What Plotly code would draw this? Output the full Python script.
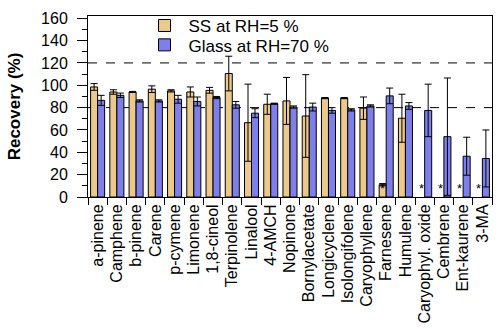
import plotly.graph_objects as go

compounds = ["a-pinene", "Camphene", "b-pinene", "Carene", "p-cymene", "Limonene",
             "1,8-cineol", "Terpinolene", "Linalool", "4-AMCH", "Nopinone",
             "Bornylacetate", "Longicyclene", "Isolongifolene", "Caryophyllene",
             "Farnesene", "Humulene", "Caryophyl. oxide", "Cembrene", "Ent-kaurene", "3-MA"]

ss_rec = [98.5, 94, 94, 96.5, 95, 94, 95.5, 110.5, 66.5, 83, 86, 72.5, 88.5, 88.5,
          79.5, 11, 70.5, None, None, None, None]
ss_err = [3, 2, 0.5, 3, 1, 4.5, 2.6, 15.5, 34.5, 9, 21, 37, 0.5, 0.5,
          10, 1, 21.5, 0, 0, 0, 0]
glass_rec = [86.5, 91, 86, 86, 87.5, 85.5, 89, 82.5, 75, 83.5, 80.5, 80.5, 77.5, 78,
             81.5, 90.5, 81.5, 77.5, 54, 36.5, 34.5]
glass_err = [4.5, 2, 1, 1, 3.5, 4, 1, 3, 4, 0.5, 1, 3.5, 2.5, 1,
             1, 7, 3, 23.5, 52.5, 17, 25.5]

# compounds marked with an asterisk at the SS position
starred = ["Farnesene", "Caryophyl. oxide", "Cembrene", "Ent-kaurene", "3-MA"]
star_y = 8
ref_lines = [80, 120]

font = "Arial, Liberation Sans, sans-serif"

fig = go.Figure()
fig.add_trace(go.Bar(x=compounds, y=ss_rec, name="SS at RH=5 %", legend="legend", showlegend=True,
                     marker=dict(color="#EAC98A", line=dict(color="black", width=1)),
                     error_y=dict(type="data", array=ss_err, color="black", thickness=1, width=3.5)))
fig.add_trace(go.Bar(x=compounds, y=glass_rec, name="Glass at RH=70 %", legend="legend2", showlegend=True,
                     marker=dict(color="#7F7FEC", line=dict(color="black", width=1)),
                     error_y=dict(type="data", array=glass_err, color="black", thickness=1, width=3.5)))

for v in ref_lines:
    fig.add_shape(type="line", xref="paper", x0=0, x1=1, yref="y", y0=v, y1=v,
                  line=dict(color="black", width=1, dash="dash"), layer="below")

for c in starred:
    fig.add_annotation(x=c, y=star_y, text="*", showarrow=False, xshift=-3.5,
                       font=dict(size=13, color="black", family=font))

leg = dict(x=0.13, xanchor="left", yanchor="middle", bgcolor="rgba(0,0,0,0)",
           font=dict(size=17), itemwidth=38)
fig.update_layout(
    width=500, height=329,
    margin=dict(l=88, r=8, t=10, b=132),
    paper_bgcolor="white", plot_bgcolor="white",
    barmode="group", bargap=0.27, bargroupgap=0,
    font=dict(family=font, color="black"),
    showlegend=True,
    legend=dict(leg, y=0.945),
    legend2=dict(leg, y=0.838),
)
fig.update_xaxes(showline=True, linecolor="black", linewidth=1, mirror=True,
                 ticks="outside", ticklen=7, tickcolor="black", tickson="boundaries",
                 tickangle=-90, tickfont=dict(size=16), showgrid=False, automargin=False)
fig.update_yaxes(range=[0, 162], dtick=20, showline=True, linecolor="black", linewidth=1,
                 mirror=True, ticks="outside", ticklen=10, tickcolor="black",
                 minor=dict(dtick=10, ticks="outside", ticklen=5, tickcolor="black"),
                 tickfont=dict(size=16), ticklabelstandoff=6, showgrid=False, zeroline=False,
                 automargin=False,
                 title=dict(text="<b>Recovery (%)</b>", font=dict(size=17), standoff=16))

fig.write_html("out.html", config={"displayModeBar": False},
               post_script="document.body.style.margin='0';")
